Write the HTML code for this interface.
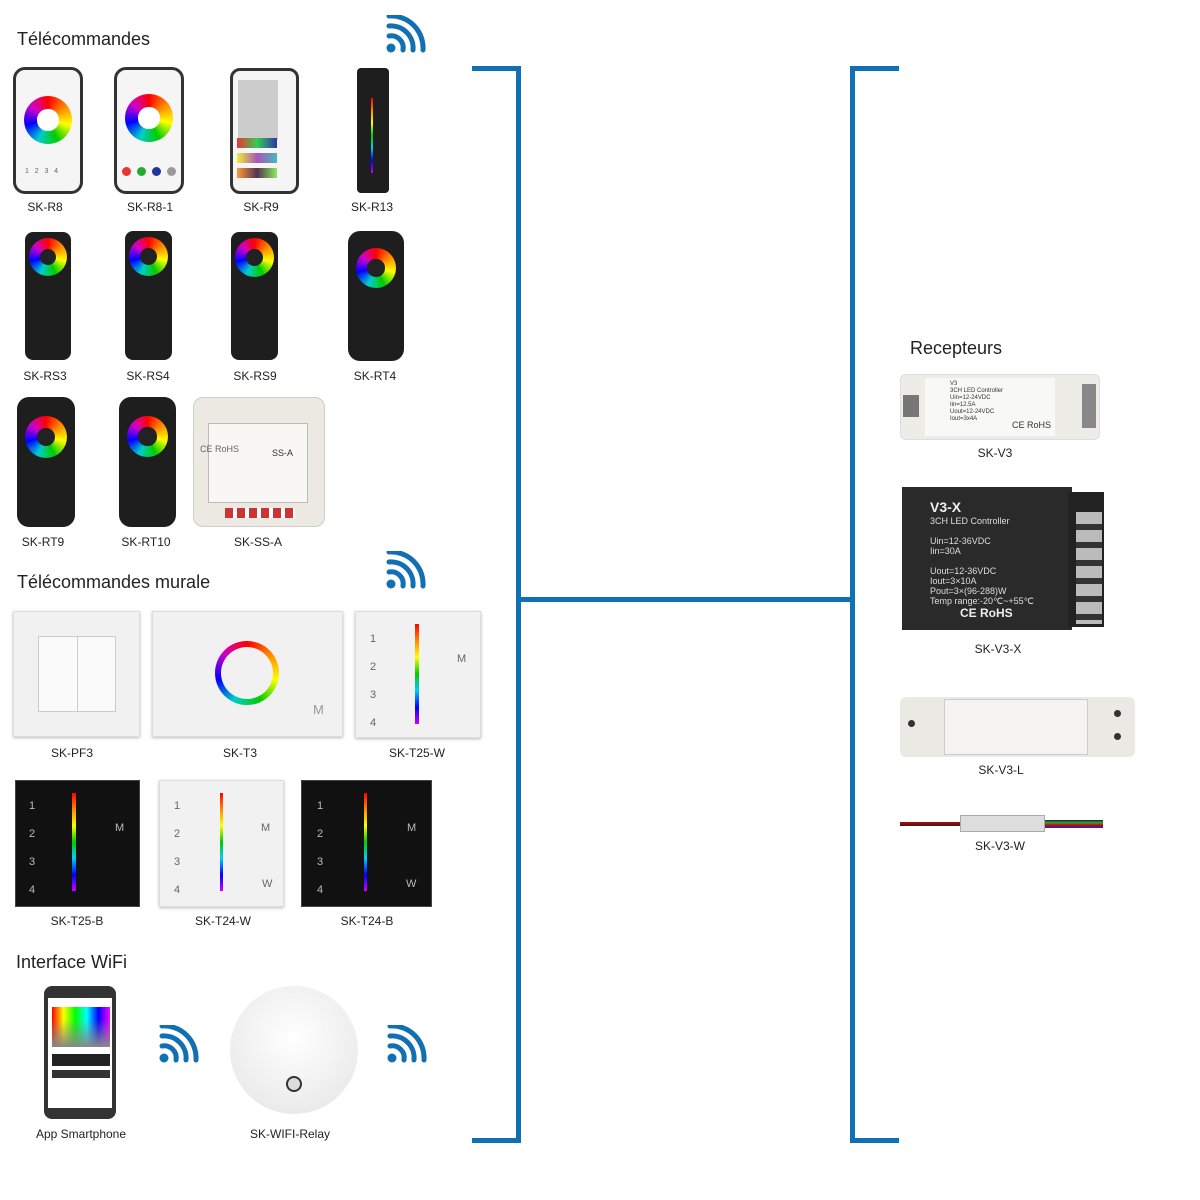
<!DOCTYPE html>
<html><head><meta charset="utf-8"><style>
*{margin:0;padding:0;box-sizing:border-box}
body{width:1200px;height:1200px;background:#fff;position:relative;overflow:hidden;font-family:"Liberation Sans",sans-serif;color:#222}
.a{position:absolute}
.h{position:absolute;font-size:18px;color:#222}
.l{position:absolute;font-size:12px;transform:translateX(-50%);white-space:nowrap;color:#222}
.b{position:absolute;background:#1170b4}
.wheel{position:absolute;border-radius:50%;background:conic-gradient(red,#f80,#ff0,#0c0,#0cc,#00f,#c0c,red)}
.wheel::after{content:"";position:absolute;left:28%;top:28%;width:44%;height:44%;border-radius:50%;background:#fff}
.wd::after{background:#222}
.wr{position:absolute;border-radius:12px;background:#f5f5f5;border:3px solid #333}
.bk{position:absolute;background:#1e1e1e;border-radius:8px}
.wp{position:absolute;background:#f1f1f1;border:1px solid #ddd;box-shadow:0 1px 3px #bbb}
.bp{position:absolute;background:#111;border:1px solid #444}
.bar{position:absolute;width:4px;background:linear-gradient(#f00,#f80,#ff0,#0c0,#0cf,#00f,#c0f)}
.n{position:absolute;font-size:11px;color:#666}
.nb{position:absolute;font-size:11px;color:#bbb}
</style></head><body>
<svg width="0" height="0" style="position:absolute"><defs><g id="wf"><circle cx="6" cy="33" r="4.5" fill="#1170b4"/><path d="M4 21 A12 12 0 0 1 18 35" stroke="#1170b4" stroke-width="5" fill="none" stroke-linecap="round"/><path d="M4 11 A22 22 0 0 1 28 35" stroke="#1170b4" stroke-width="5" fill="none" stroke-linecap="round"/><path d="M4 1 A32 32 0 0 1 38 35" stroke="#1170b4" stroke-width="5" fill="none" stroke-linecap="round"/></g></defs></svg>
<svg class="a" style="left:385px;top:15px" width="42" height="40"><use href="#wf"/></svg>
<svg class="a" style="left:385px;top:551px" width="42" height="40"><use href="#wf"/></svg>
<svg class="a" style="left:158px;top:1025px" width="42" height="40"><use href="#wf"/></svg>
<svg class="a" style="left:386px;top:1025px" width="42" height="40"><use href="#wf"/></svg>

<!-- brackets -->
<div class="b" style="left:472px;top:66px;width:49px;height:5px"></div>
<div class="b" style="left:516px;top:66px;width:5px;height:1077px"></div>
<div class="b" style="left:472px;top:1138px;width:49px;height:5px"></div>
<div class="b" style="left:521px;top:597px;width:330px;height:5px"></div>
<div class="b" style="left:850px;top:66px;width:5px;height:1077px"></div>
<div class="b" style="left:850px;top:66px;width:49px;height:5px"></div>
<div class="b" style="left:850px;top:1138px;width:49px;height:5px"></div>

<div class="h" style="left:17px;top:29px">Télécommandes</div>
<div class="h" style="left:17px;top:572px">Télécommandes murale</div>
<div class="h" style="left:16px;top:952px">Interface WiFi</div>
<div class="h" style="left:910px;top:338px">Recepteurs</div>

<!-- row1 -->
<div class="wr" style="left:13px;top:67px;width:70px;height:127px"></div>
<div class="wheel" style="left:24px;top:96px;width:48px;height:48px"></div>
<div class="n" style="left:25px;top:168px;font-size:7px">1 &nbsp; 2 &nbsp; 3 &nbsp; 4</div>
<div class="wr" style="left:114px;top:67px;width:70px;height:127px"></div>
<div class="wheel" style="left:125px;top:94px;width:48px;height:48px"></div>
<div class="a" style="left:122px;top:167px;width:9px;height:9px;border-radius:50%;background:#e33"></div>
<div class="a" style="left:137px;top:167px;width:9px;height:9px;border-radius:50%;background:#2a3"></div>
<div class="a" style="left:152px;top:167px;width:9px;height:9px;border-radius:50%;background:#239"></div>
<div class="a" style="left:167px;top:167px;width:9px;height:9px;border-radius:50%;background:#999"></div>
<div class="wr" style="left:230px;top:68px;width:69px;height:126px;border-radius:10px"></div>
<div class="a" style="left:238px;top:80px;width:40px;height:60px;background:#ccc"></div>
<div class="a" style="left:237px;top:138px;width:40px;height:10px;background:linear-gradient(90deg,#e33,#3c5,#33a)"></div>
<div class="a" style="left:237px;top:153px;width:40px;height:10px;background:linear-gradient(90deg,#ee3,#a5b,#4bb)"></div>
<div class="a" style="left:237px;top:168px;width:40px;height:10px;background:linear-gradient(90deg,#f93,#535,#8e5)"></div>
<div class="bk" style="left:357px;top:68px;width:32px;height:125px;border-radius:4px"></div>
<div class="bar" style="left:371px;top:98px;height:75px;width:2px"></div>
<div class="l" style="left:45px;top:200px">SK-R8</div>
<div class="l" style="left:150px;top:200px">SK-R8-1</div>
<div class="l" style="left:261px;top:200px">SK-R9</div>
<div class="l" style="left:372px;top:200px">SK-R13</div>

<!-- row2 -->
<div class="bk" style="left:25px;top:232px;width:46px;height:128px"></div>
<div class="wheel wd" style="left:29px;top:238px;width:38px;height:38px"></div>
<div class="bk" style="left:125px;top:231px;width:47px;height:129px"></div>
<div class="wheel wd" style="left:129px;top:237px;width:39px;height:39px"></div>
<div class="bk" style="left:231px;top:232px;width:47px;height:128px"></div>
<div class="wheel wd" style="left:235px;top:238px;width:39px;height:39px"></div>
<div class="bk" style="left:348px;top:231px;width:56px;height:130px;border-radius:12px"></div>
<div class="wheel wd" style="left:356px;top:248px;width:40px;height:40px"></div>
<div class="l" style="left:45px;top:369px">SK-RS3</div>
<div class="l" style="left:148px;top:369px">SK-RS4</div>
<div class="l" style="left:255px;top:369px">SK-RS9</div>
<div class="l" style="left:375px;top:369px">SK-RT4</div>

<!-- row3 -->
<div class="bk" style="left:17px;top:397px;width:58px;height:130px;border-radius:12px"></div>
<div class="wheel wd" style="left:25px;top:416px;width:42px;height:42px"></div>
<div class="bk" style="left:119px;top:397px;width:57px;height:130px;border-radius:12px"></div>
<div class="wheel wd" style="left:127px;top:416px;width:41px;height:41px"></div>
<div class="a" style="left:193px;top:397px;width:132px;height:130px;background:#ece9e3;border-radius:10px;border:1px solid #ccc"></div>
<div class="a" style="left:208px;top:423px;width:100px;height:80px;background:#f8f7f4;border:1px solid #bbb"></div>
<div class="n" style="left:200px;top:444px;font-size:9px">CE RoHS</div>
<div class="n" style="left:272px;top:448px;font-size:9px;color:#333">SS-A</div>
<div class="a" style="left:225px;top:508px;width:70px;height:10px;background:repeating-linear-gradient(90deg,#c33 0 8px,#fff 8px 12px)"></div>
<div class="l" style="left:43px;top:535px">SK-RT9</div>
<div class="l" style="left:146px;top:535px">SK-RT10</div>
<div class="l" style="left:258px;top:535px">SK-SS-A</div>

<!-- wall row1 -->
<div class="wp" style="left:13px;top:611px;width:127px;height:126px"></div>
<div class="a" style="left:38px;top:636px;width:78px;height:76px;background:#fafafa;border:1px solid #ccc"></div>
<div class="a" style="left:77px;top:636px;width:1px;height:76px;background:#ccc"></div>
<div class="wp" style="left:152px;top:611px;width:191px;height:126px"></div>
<div class="a" style="left:215px;top:641px;width:64px;height:64px;border-radius:50%;background:conic-gradient(red,#f80,#ff0,#0c0,#0cc,#00f,#c0c,red)"></div>
<div class="a" style="left:221px;top:647px;width:52px;height:52px;border-radius:50%;background:#f1f1f1"></div>
<div class="nb" style="left:313px;top:702px;font-size:13px;color:#999">M</div>
<div class="wp" style="left:355px;top:611px;width:126px;height:127px"></div>
<div class="bar" style="left:415px;top:624px;height:100px"></div>
<div class="n" style="left:370px;top:625px;line-height:28px">1<br>2<br>3<br>4</div>
<div class="n" style="left:457px;top:653px">M</div>
<div class="l" style="left:72px;top:746px">SK-PF3</div>
<div class="l" style="left:240px;top:746px">SK-T3</div>
<div class="l" style="left:417px;top:746px">SK-T25-W</div>

<!-- wall row2 -->
<div class="bp" style="left:15px;top:780px;width:125px;height:127px"></div>
<div class="bar" style="left:72px;top:793px;height:98px"></div>
<div class="nb" style="left:29px;top:792px;line-height:28px">1<br>2<br>3<br>4</div>
<div class="nb" style="left:115px;top:822px">M</div>
<div class="wp" style="left:159px;top:780px;width:125px;height:127px"></div>
<div class="bar" style="left:220px;top:793px;height:98px;width:3px"></div>
<div class="n" style="left:174px;top:792px;line-height:28px">1<br>2<br>3<br>4</div>
<div class="n" style="left:261px;top:822px">M</div>
<div class="n" style="left:262px;top:878px">W</div>
<div class="bp" style="left:301px;top:780px;width:131px;height:127px"></div>
<div class="bar" style="left:364px;top:793px;height:98px;width:3px"></div>
<div class="nb" style="left:317px;top:792px;line-height:28px">1<br>2<br>3<br>4</div>
<div class="nb" style="left:407px;top:822px">M</div>
<div class="nb" style="left:406px;top:878px">W</div>
<div class="l" style="left:77px;top:914px">SK-T25-B</div>
<div class="l" style="left:223px;top:914px">SK-T24-W</div>
<div class="l" style="left:367px;top:914px">SK-T24-B</div>

<!-- wifi interface -->
<div class="a" style="left:44px;top:986px;width:72px;height:133px;background:#333;border-radius:8px"></div>
<div class="a" style="left:48px;top:998px;width:64px;height:110px;background:#fff"></div>
<div class="a" style="left:52px;top:1007px;width:58px;height:40px;background:linear-gradient(90deg,#f00,#ff0,#0f0,#0ff,#00f,#f0f)"></div>
<div class="a" style="left:52px;top:1007px;width:58px;height:40px;background:linear-gradient(transparent,#fff0 30%,#888)"></div>
<div class="a" style="left:52px;top:1054px;width:58px;height:12px;background:#222"></div>
<div class="a" style="left:52px;top:1070px;width:58px;height:8px;background:#333"></div>
<div class="a" style="left:230px;top:986px;width:128px;height:128px;border-radius:50%;background:radial-gradient(circle at 50% 40%,#fff,#ececec 70%,#ddd)"></div>
<div class="a" style="left:286px;top:1076px;width:16px;height:16px;border-radius:50%;border:2px solid #333;background:#ddd"></div>
<div class="l" style="left:81px;top:1127px">App Smartphone</div>
<div class="l" style="left:290px;top:1127px">SK-WIFI-Relay</div>

<!-- receivers -->
<div class="a" style="left:900px;top:374px;width:200px;height:66px;background:#eeece6;border-radius:6px;border:1px solid #ddd"></div>
<div class="a" style="left:925px;top:378px;width:130px;height:58px;background:#f8f8f6"></div>
<div class="a" style="left:950px;top:381px;font-size:6px;color:#333;line-height:7px">V3<br>3CH LED Controller<br>Uin=12-24VDC<br>Iin=12.5A<br>Uout=12-24VDC<br>Iout=3x4A</div>
<div class="a" style="left:1012px;top:420px;font-size:9px;color:#333">CE RoHS</div>
<div class="a" style="left:903px;top:395px;width:16px;height:22px;background:#777"></div>
<div class="a" style="left:1082px;top:384px;width:14px;height:44px;background:#888"></div>
<div class="l" style="left:995px;top:446px">SK-V3</div>
<div class="a" style="left:902px;top:487px;width:170px;height:143px;background:#2a2a2a"></div>
<div class="a" style="left:1068px;top:492px;width:36px;height:135px;background:#222"></div>
<div class="a" style="left:1076px;top:512px;width:26px;height:112px;background:repeating-linear-gradient(#bbb 0 12px,#333 12px 18px)"></div>
<div class="a" style="left:930px;top:499px;font-size:14px;font-weight:bold;color:#eee">V3-X</div>
<div class="a" style="left:930px;top:516px;font-size:9px;color:#ddd;line-height:10px">3CH LED Controller<br><br>Uin=12-36VDC<br>Iin=30A<br><br>Uout=12-36VDC<br>Iout=3×10A<br>Pout=3×(96-288)W<br>Temp range:-20℃~+55℃</div>
<div class="a" style="left:960px;top:606px;font-size:12px;font-weight:bold;color:#eee">CE RoHS</div>
<div class="l" style="left:998px;top:642px">SK-V3-X</div>
<div class="a" style="left:900px;top:697px;width:235px;height:60px;background:#ebe9e3;border-radius:6px"></div>
<div class="a" style="left:944px;top:699px;width:144px;height:56px;background:#f4f3ef;border:1px solid #ccc"></div>
<div class="a" style="left:908px;top:720px;width:7px;height:7px;border-radius:50%;background:#333"></div>
<div class="a" style="left:1114px;top:710px;width:7px;height:7px;border-radius:50%;background:#333"></div>
<div class="a" style="left:1114px;top:733px;width:7px;height:7px;border-radius:50%;background:#333"></div>
<div class="l" style="left:1001px;top:763px">SK-V3-L</div>
<div class="a" style="left:900px;top:822px;width:60px;height:4px;background:linear-gradient(#c00,#222)"></div>
<div class="a" style="left:960px;top:815px;width:85px;height:17px;background:#ddd;border:1px solid #aaa"></div>
<div class="a" style="left:1045px;top:820px;width:58px;height:8px;background:linear-gradient(#222,#2a4,#c00,#22c)"></div>
<div class="l" style="left:1000px;top:839px">SK-V3-W</div>
</body></html>
